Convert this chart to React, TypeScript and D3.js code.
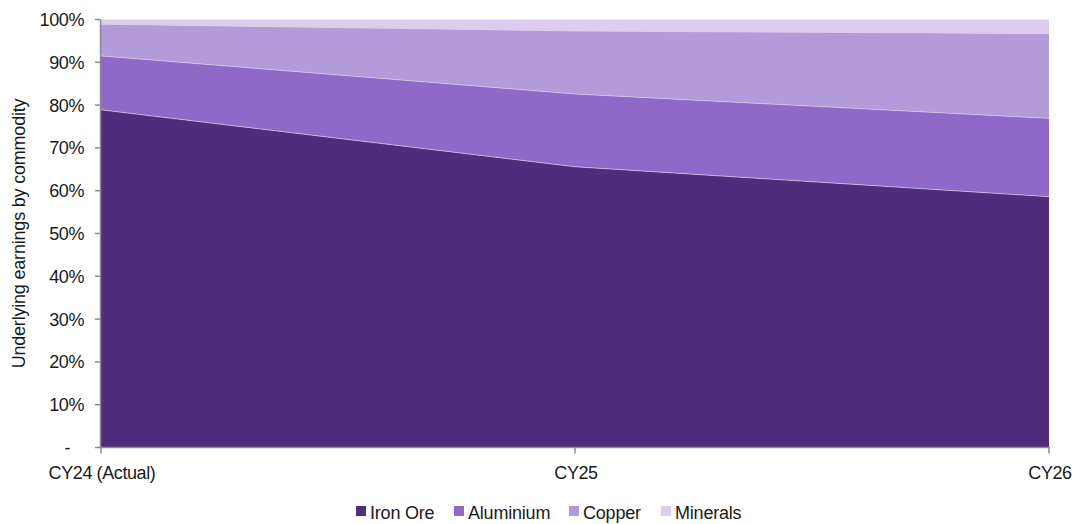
import React, { useEffect, useRef } from "react";
import * as d3 from "d3";

// Share of underlying earnings by commodity (%)
const periods = ["CY24 (Actual)", "CY25", "CY26"];
const ironOre = [78.9, 65.6, 58.6];
const aluminium = [12.6, 17.0, 18.3];
const copper = [7.4, 14.7, 19.8];
const minerals = [1.1, 2.7, 3.3];

const seriesNames = ["Iron Ore", "Aluminium", "Copper", "Minerals"];
const seriesColors = ["#4f2d7c", "#8f68c8", "#b39ada", "#dccdee"];
const yTicks = [0, 10, 20, 30, 40, 50, 60, 70, 80, 90, 100];

const W = 1075;
const H = 524;
const M = { left: 101, right: 1049, top: 19.5, bottom: 447.5 };
const FONT = "'Liberation Sans', Arial, sans-serif";

export default function App() {
  const ref = useRef<SVGSVGElement>(null);

  useEffect(() => {
    const svg = d3.select(ref.current);
    svg.selectAll("*").remove();

    const rows = periods.map((p, i) => ({
      period: p,
      "Iron Ore": ironOre[i],
      Aluminium: aluminium[i],
      Copper: copper[i],
      Minerals: minerals[i],
    }));

    const x = d3.scalePoint<string>().domain(periods).range([M.left, M.right]);
    const y = d3.scaleLinear().domain([0, 100]).range([M.bottom, M.top]);

    const stack = d3.stack<any>().keys(seriesNames);
    const layers = stack(rows);

    const area = d3
      .area<any>()
      .x((d) => x(d.data.period) as number)
      .y0((d) => y(d[0]))
      .y1((d) => y(d[1]));

    const topLine = d3
      .line<any>()
      .x((d) => x(d.data.period) as number)
      .y((d) => y(d[1]));

    const g = svg.append("g");
    layers.forEach((layer, i) => {
      g.append("path")
        .attr("d", area(layer) as string)
        .attr("fill", seriesColors[i]);
    });
    // thin light separators between layers
    layers.slice(0, 3).forEach((layer) => {
      g.append("path")
        .attr("d", topLine(layer) as string)
        .attr("fill", "none")
        .attr("stroke", "#d8ccec")
        .attr("stroke-width", 0.7);
    });

    const axisColor = "#8c8c8c";

    // y axis
    svg
      .append("line")
      .attr("x1", 100.5)
      .attr("x2", 100.5)
      .attr("y1", y(100))
      .attr("y2", y(0))
      .attr("stroke", axisColor)
      .attr("stroke-width", 1.5);
    yTicks.forEach((t) => {
      svg
        .append("line")
        .attr("x1", 95)
        .attr("x2", 100.5)
        .attr("y1", y(t))
        .attr("y2", y(t))
        .attr("stroke", axisColor)
        .attr("stroke-width", 1.5);
      svg
        .append("text")
        .attr("x", t === 0 ? 70 : 84)
        .attr("y", y(t))
        .attr("dy", "0.36em")
        .attr("text-anchor", "end")
        .attr("font-family", FONT)
        .attr("font-size", 18)
        .attr("letter-spacing", -0.4)
        .attr("fill", "#1a1a1a")
        .text(t === 0 ? "-" : `${t}%`);
    });

    // x axis
    svg
      .append("line")
      .attr("x1", 100)
      .attr("x2", M.right + 1)
      .attr("y1", y(0))
      .attr("y2", y(0))
      .attr("stroke", axisColor)
      .attr("stroke-width", 1.5);
    periods.forEach((p) => {
      const px = x(p) as number;
      svg
        .append("line")
        .attr("x1", px)
        .attr("x2", px)
        .attr("y1", y(0))
        .attr("y2", y(0) + 6)
        .attr("stroke", axisColor)
        .attr("stroke-width", 1.5);
      svg
        .append("text")
        .attr("x", px + 1)
        .attr("y", 479)
        .attr("text-anchor", "middle")
        .attr("font-family", FONT)
        .attr("font-size", 18)
        .attr("letter-spacing", -0.4)
        .attr("fill", "#1a1a1a")
        .text(p);
    });

    // y axis title
    svg
      .append("text")
      .attr("transform", `translate(25, ${(M.top + M.bottom) / 2}) rotate(-90)`)
      .attr("text-anchor", "middle")
      .attr("font-family", FONT)
      .attr("font-size", 18)
      .attr("letter-spacing", -0.2)
      .attr("fill", "#1a1a1a")
      .text("Underlying earnings by commodity");

    // legend
    const legendTextX = [370, 468, 583, 675];
    seriesNames.forEach((name, i) => {
      svg
        .append("rect")
        .attr("x", legendTextX[i] - 14)
        .attr("y", 506)
        .attr("width", 10)
        .attr("height", 10)
        .attr("fill", seriesColors[i]);
      svg
        .append("text")
        .attr("x", legendTextX[i])
        .attr("y", 519)
        .attr("font-family", FONT)
        .attr("font-size", 18)
        .attr("letter-spacing", -0.2)
        .attr("fill", "#1a1a1a")
        .text(name);
    });
  }, []);

  return (
    <svg
      ref={ref}
      width={W}
      height={H}
      style={{ position: "absolute", left: 0, top: 0, background: "#fff" }}
    />
  );
}
